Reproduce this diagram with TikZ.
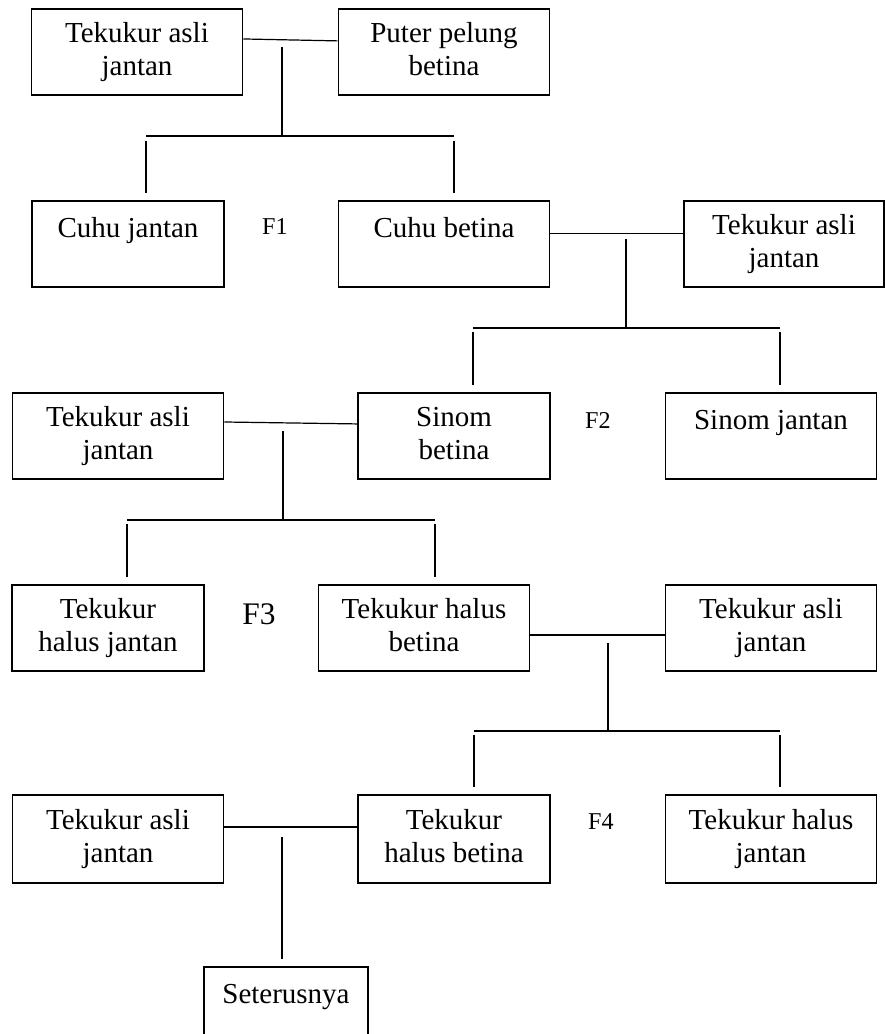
\documentclass[tikz,border=0pt]{standalone}
\usepackage{fontspec}
\setmainfont{Liberation Serif}

\begin{document}
\begin{tikzpicture}
  [x=0.414pt, y=-0.414pt,
  box/.style={draw, line width=0.6pt, inner sep=0pt, align=center,
    minimum width=87.4pt, minimum height=35.6pt,
    font=\fontsize{12}{13.66}\selectfont},
  nbox/.style={box, minimum width=79.5pt},
  gen/.style={inner sep=0pt, font=\fontsize{10}{12}\selectfont},
  link/.style={line width=0.5pt}]
  \useasboundingbox (0,0) rectangle (885,1034);
  \clip (0,0) rectangle (885,1034);
  % parents
  \node[box] (asli1) at (137,52) {\strut Tekukur asli\\\strut jantan};
  \node[box] (puter) at (444,52) {\strut Puter pelung\\\strut betina};
  % F1
  \node[nbox] (cuhuj) at (128,244) {\strut Cuhu jantan\\[-3pt]\strut};
  \node[box] (cuhub) at (444,244) {\strut Cuhu betina\\[-3pt]\strut};
  \node[box, minimum width=82.8pt] (asli2) at (784,244) {\strut Tekukur asli\\\strut jantan};
  \node[gen] (f1) at (275,227) {F1};
  % F2
  \node[box] (asli3) at (118,436) {\strut Tekukur asli\\\strut jantan};
  \node[nbox] (sinomb) at (454,436) {\strut Sinom\\\strut betina};
  \node[box] (sinomj) at (771,436) {\strut Sinom jantan\\[-3pt]\strut};
  \node[gen] (f2) at (598,420) {F2};
  % F3
  \node[nbox] (halusj1) at (108,628) {\strut Tekukur\\\strut halus jantan};
  \node[box] (halusb1) at (424,628) {\strut Tekukur halus\\\strut betina};
  \node[box] (asli4) at (771,628) {\strut Tekukur asli\\\strut jantan};
  \node[gen, font=\fontsize{13}{15}\selectfont] (f3) at (259,614) {F3};
  % F4
  \node[box, minimum height=36.4pt] (asli5) at (118,839) {\strut Tekukur asli\\\strut jantan};
  \node[nbox, minimum height=36.4pt] (halusb2) at (454,839) {\strut Tekukur\\\strut halus betina};
  \node[box, minimum height=36.4pt] (halusj2) at (771,839) {\strut Tekukur halus\\\strut jantan};
  \node[gen] (f4) at (601,822) {F4};
  \node[box, minimum width=67.9pt] (terus) at (286,1010) {\strut Seterusnya\\[-3pt]\strut};

  % pairings
  \draw[link] ([yshift=5.4pt]asli1.east) -- ([yshift=4.6pt]puter.west);
  \draw[link] ([yshift=4.5pt]cuhub.east) -- ([yshift=4.5pt]asli2.west);
  \draw[link] ([yshift=5.8pt]asli3.east) -- ([yshift=5pt]sinomb.west);
  \draw[link] ([yshift=-2.9pt]halusb1.east) -- ([yshift=-2.9pt]asli4.west);
  \draw[link] ([yshift=5pt]asli5.east) -- ([yshift=5pt]halusb2.west);

  % offspring bars
  \foreach \i/\sx/\st/\by/\bl/\br/\dt/\db in
    {1/282/47/136/146/454/141/193,
     2/626/239/328/473/780/332/385,
     3/283/431/520/127/435/524/577,
     4/608/643/731/474/780/735/787}{
    \coordinate (st\i) at (\sx,\st);
    \coordinate (jn\i) at (\sx,\by);
    \coordinate (bl\i) at (\bl,\by);
    \coordinate (br\i) at (\br,\by);
    \coordinate (dl\i) at (\bl,\dt);
    \coordinate (el\i) at (\bl,\db);
    \coordinate (dr\i) at (\br,\dt);
    \coordinate (er\i) at (\br,\db);
    \draw[link] (st\i) -- (jn\i);
    \draw[link] (bl\i) -- (br\i);
    \draw[link] (dl\i) -- (el\i);
    \draw[link] (dr\i) -- (er\i);
  }
  \coordinate (st5) at (282,837);
  \coordinate (jn5) at (282,959);
  \draw[link] (st5) -- (jn5);
\end{tikzpicture}
\end{document}
